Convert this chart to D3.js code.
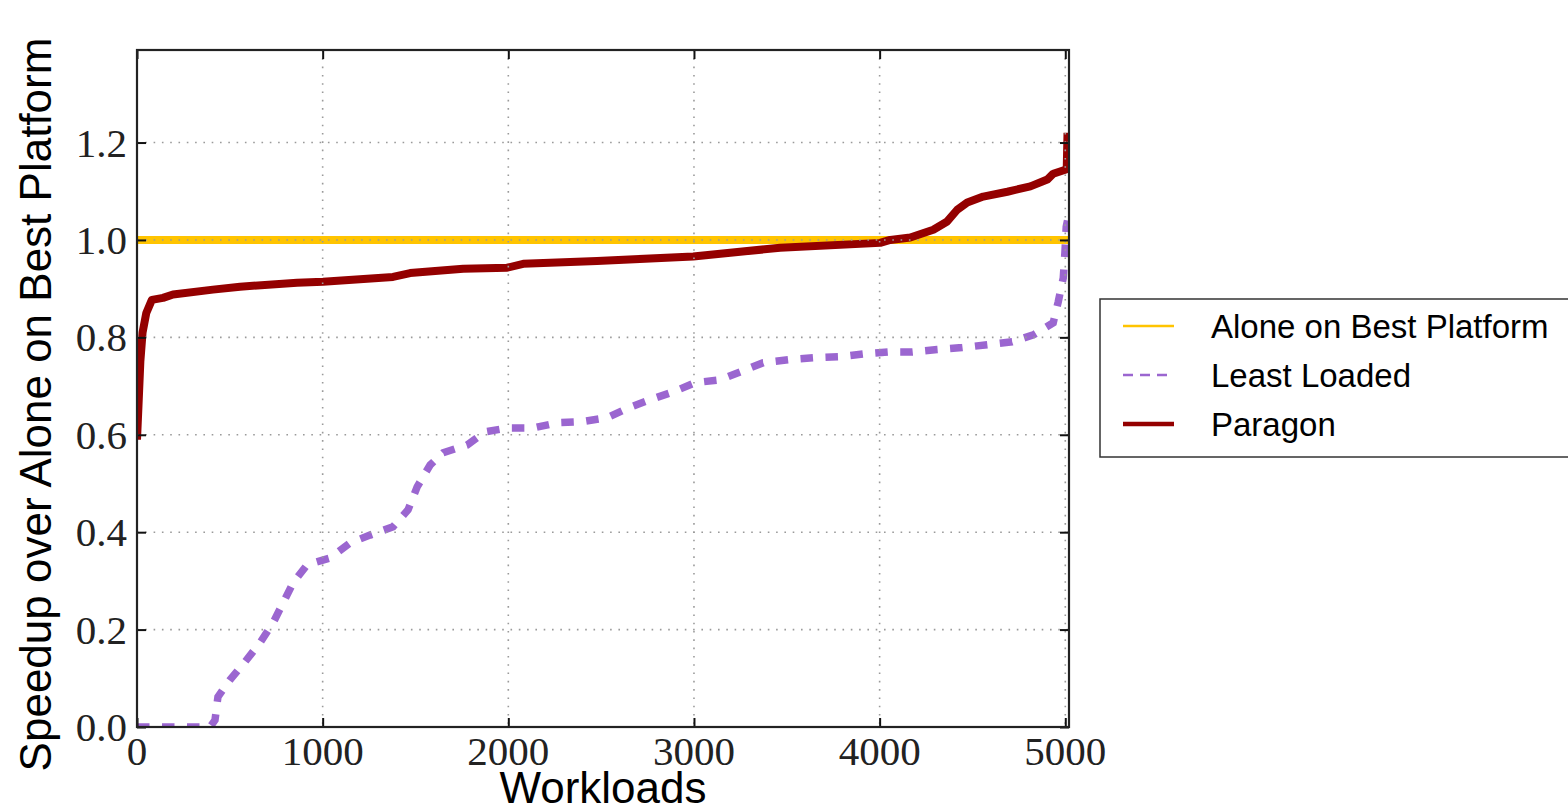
<!DOCTYPE html>
<html>
<head>
<meta charset="utf-8">
<script src="https://cdnjs.cloudflare.com/ajax/libs/d3/7.8.5/d3.min.js"></script>
<style>
    body { margin: 0; background: #fff; overflow: hidden; }
    #chart { width: 1568px; height: 810px; }
    .tick-label { font-family: "Liberation Serif", "DejaVu Serif", serif; font-size: 41px; fill: #222; }
    .axis-title { font-family: "Liberation Sans", Arial, sans-serif; font-size: 44px; fill: #000; }
    .legend-text { font-family: "Liberation Sans", Arial, sans-serif; font-size: 33px; fill: #000; }
</style>
</head>
<body>
<div id="chart"></div>
<script>

// workload index, speedup
let paragonX = [0, 8, 18, 30, 50, 80, 140, 194, 409, 555, 862, 1002, 1379, 1471, 1757, 1994, 2080, 2478,
    2996, 3464, 4003, 4057, 4165, 4289, 4364, 4418, 4472, 4558, 4688, 4812, 4903, 4935, 5000, 5008, 5012];
let paragonY = [0.59, 0.66, 0.75, 0.81, 0.85, 0.877, 0.881, 0.888, 0.898, 0.904, 0.912, 0.914, 0.924, 0.932, 0.941, 0.943, 0.951, 0.957,
    0.966, 0.984, 0.994, 1.0, 1.005, 1.021, 1.038, 1.062, 1.077, 1.089, 1.099, 1.110, 1.124, 1.136, 1.144, 1.15, 1.22];

let leastX = [0, 393, 420, 436, 501, 582, 663, 733, 787, 841, 916, 1040, 1148, 1255, 1379, 1460, 1509, 1579, 1649, 1778,
    1875, 1999, 2134, 2268, 2398, 2532, 2645, 2764, 2888, 3006, 3141, 3249, 3373, 3508, 3642, 3777, 3912, 4046, 4176,
    4310, 4445, 4580, 4714, 4828, 4935, 4962, 4989, 4998, 5005, 5012];
let leastY = [0.0, 0.0, 0.014, 0.062, 0.097, 0.134, 0.173, 0.214, 0.255, 0.296, 0.333, 0.347, 0.378, 0.394, 0.411, 0.446, 0.493, 0.538, 0.563, 0.579,
    0.606, 0.614, 0.614, 0.625, 0.627, 0.635, 0.655, 0.672, 0.688, 0.707, 0.713, 0.729, 0.748, 0.754, 0.758, 0.760, 0.766, 0.770, 0.770,
    0.775, 0.779, 0.785, 0.791, 0.805, 0.830, 0.873, 0.922, 0.974, 1.027, 1.04];

let aloneX = [0, 5020];
let aloneY = [1.0, 1.0];

let xTicks = [0, 1000, 2000, 3000, 4000, 5000];
let yTicks = [0.0, 0.2, 0.4, 0.6, 0.8, 1.0, 1.2];

let seriesNames = ["Alone on Best Platform", "Least Loaded", "Paragon"];
let seriesColors = ["#ffc400", "#9b66d0", "#940000"];

class SpeedupVis {

    constructor(_parentElement) {
        this.parentElement = _parentElement;
        this.initVis();
    }

    initVis() {
        let vis = this;

        vis.margin = {top: 50, right: 499, bottom: 83, left: 137};
        vis.width = 1568 - vis.margin.left - vis.margin.right;
        vis.height = 810 - vis.margin.top - vis.margin.bottom;

        vis.root = d3.select("#" + vis.parentElement).append("svg")
            .attr("width", 1568)
            .attr("height", 810);

        vis.svg = vis.root.append("g")
            .attr("transform", "translate(" + vis.margin.left + "," + vis.margin.top + ")");

        vis.svg.append("clipPath").attr("id", "plot-clip")
            .append("rect").attr("width", vis.width).attr("height", vis.height);

        vis.x = d3.scaleLinear().domain([0, 5020]).range([0, vis.width]);
        vis.y = d3.scaleLinear().domain([0, 1.39]).range([vis.height, 0]);

        vis.wrangleData();
    }

    wrangleData() {
        let vis = this;
        let zip = (xs, ys) => xs.map((d, i) => ({x: d, y: ys[i]}));
        vis.series = [
            {name: seriesNames[0], color: seriesColors[0], values: zip(aloneX, aloneY)},
            {name: seriesNames[1], color: seriesColors[1], values: zip(leastX, leastY)},
            {name: seriesNames[2], color: seriesColors[2], values: zip(paragonX, paragonY)}
        ];
        vis.updateVis();
    }

    updateVis() {
        let vis = this;

        let line = d3.line()
            .x(d => vis.x(d.x))
            .y(d => vis.y(d.y));

        let plot = vis.svg.append("g").attr("clip-path", "url(#plot-clip)");

        // yellow reference line sits under the grid
        plot.append("path")
            .datum(vis.series[0].values)
            .attr("d", line)
            .attr("fill", "none")
            .attr("stroke", vis.series[0].color)
            .attr("stroke-width", 8);

        // dotted grid
        let grid = vis.svg.append("g");
        grid.selectAll(".vgrid").data(xTicks.filter(d => d > 0))
            .enter().append("line")
            .attr("x1", d => vis.x(d)).attr("x2", d => vis.x(d))
            .attr("y1", 0).attr("y2", vis.height)
            .attr("stroke", "#9a9a9a").attr("stroke-width", 1.6)
            .attr("stroke-dasharray", "1.6,6.7");
        grid.selectAll(".hgrid").data(yTicks.filter(d => d > 0))
            .enter().append("line")
            .attr("x1", 0).attr("x2", vis.width)
            .attr("y1", d => vis.y(d)).attr("y2", d => vis.y(d))
            .attr("stroke", "#9a9a9a").attr("stroke-width", 1.6)
            .attr("stroke-dasharray", "1.6,6.7");

        plot.append("path")
            .datum(vis.series[1].values)
            .attr("d", line)
            .attr("fill", "none")
            .attr("stroke", vis.series[1].color)
            .attr("stroke-width", 7.5)
            .attr("stroke-dasharray", "12.5,12.5");

        plot.append("path")
            .datum(vis.series[2].values)
            .attr("d", line)
            .attr("fill", "none")
            .attr("stroke", vis.series[2].color)
            .attr("stroke-width", 8)
            .attr("stroke-linejoin", "round");

        // axes, ticks inside on all four sides
        let xAxisB = d3.axisBottom(vis.x).tickValues(xTicks).tickSize(-9).tickFormat("");
        let xAxisT = d3.axisTop(vis.x).tickValues(xTicks).tickSize(-9).tickFormat("");
        let yAxisL = d3.axisLeft(vis.y).tickValues(yTicks).tickSize(-9).tickFormat("");
        let yAxisR = d3.axisRight(vis.y).tickValues(yTicks).tickSize(-9).tickFormat("");

        let axes = [
            vis.svg.append("g").attr("transform", "translate(0," + vis.height + ")").call(xAxisB),
            vis.svg.append("g").call(xAxisT),
            vis.svg.append("g").call(yAxisL),
            vis.svg.append("g").attr("transform", "translate(" + vis.width + ",0)").call(yAxisR)
        ];
        axes.forEach(a => {
            a.select(".domain").remove();
            a.selectAll(".tick line").attr("stroke", "#111").attr("stroke-width", 2);
        });

        vis.svg.append("rect")
            .attr("width", vis.width).attr("height", vis.height)
            .attr("fill", "none").attr("stroke", "#222").attr("stroke-width", 2.2);

        // tick labels
        vis.svg.selectAll(".xlab").data(xTicks)
            .enter().append("text")
            .attr("class", "tick-label")
            .attr("x", d => vis.x(d))
            .attr("y", vis.height + 38)
            .attr("text-anchor", "middle")
            .text(d => d);

        vis.svg.selectAll(".ylab").data(yTicks)
            .enter().append("text")
            .attr("class", "tick-label")
            .attr("x", -10)
            .attr("y", d => vis.y(d) + 14)
            .attr("text-anchor", "end")
            .text(d => d.toFixed(1));

        // axis titles
        vis.svg.append("text")
            .attr("class", "axis-title")
            .attr("x", vis.width / 2)
            .attr("y", vis.height + 76)
            .attr("text-anchor", "middle")
            .text("Workloads");

        vis.svg.append("text")
            .attr("class", "axis-title")
            .attr("transform", "translate(" + (-86) + "," + (vis.height / 2 + 16) + ") rotate(-90)")
            .attr("text-anchor", "middle")
            .text("Speedup over Alone on Best Platform");

        // legend
        let legend = vis.root.append("g").attr("transform", "translate(1100,299)");
        legend.append("rect")
            .attr("width", 520).attr("height", 158)
            .attr("fill", "#fff").attr("stroke", "#333").attr("stroke-width", 1.5);

        let rowWidths = [2.5, 2.5, 4.5];
        let rowDash = [null, "10,7", null];
        let rows = legend.selectAll(".row").data(vis.series)
            .enter().append("g")
            .attr("transform", (d, i) => "translate(0," + (27 + i * 49) + ")");
        rows.append("line")
            .attr("x1", 23).attr("x2", 74)
            .attr("stroke", d => d.color)
            .attr("stroke-width", (d, i) => rowWidths[i])
            .attr("stroke-dasharray", (d, i) => rowDash[i]);
        rows.append("text")
            .attr("class", "legend-text")
            .attr("x", 111)
            .attr("y", 12)
            .text(d => d.name);
    }
}

new SpeedupVis("chart");
</script>
</body>
</html>
